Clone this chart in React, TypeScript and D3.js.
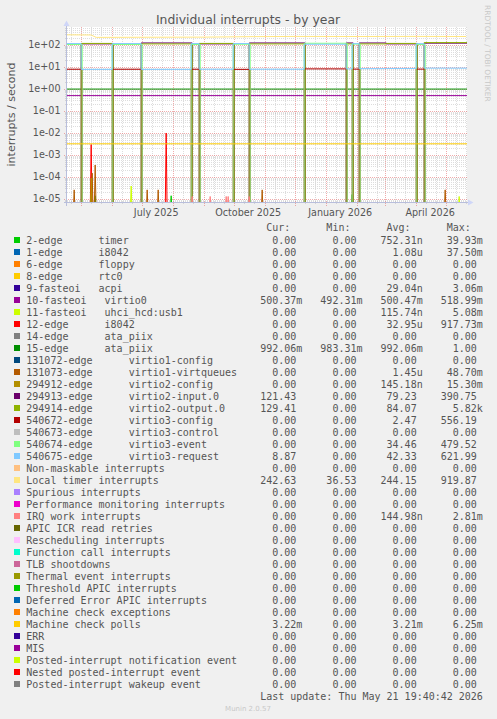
import React from 'react';
import * as d3 from 'd3';

const W = 497;
const H = 719;

// ---------- time frame ----------
const endDate = new Date(2026, 4, 21, 19, 40, 42);
const startDate = d3.timeDay.offset(endDate, -400);
const parse = d3.timeParse('%Y-%m-%d');

// ---------- axis labels ----------
const yTickValues = [1e2, 1e1, 1e0, 1e-1, 1e-2, 1e-3, 1e-4, 1e-5];
const yTickLabels = ['1e+02', '1e+01', '1e+00', '1e-01', '1e-02', '1e-03', '1e-04', '1e-05'];
const xTickDates = ['2025-07-15', '2025-10-15', '2026-01-15', '2026-04-15'];
const xTickLabels = ['July 2025', 'October 2025', 'January 2026', 'April 2026'];

// ---------- periods (virtio2 / virtio3 device usage) ----------
const periodStarts = [
  '2025-04-16', '2025-05-01', '2025-06-01', '2025-06-30', '2025-08-19', '2025-08-27',
  '2025-09-30', '2025-10-16', '2025-12-10', '2026-01-21', '2026-01-27', '2026-02-03',
  '2026-03-02', '2026-04-01', '2026-04-09',
];
const virtio2Input = [0, 112, 0, 124, 0, 112, 0, 124, 0, 124, 0, 124, 112, 0, 121];
const virtio2Output = [0, 118, 0, 112, 0, 118, 0, 112, 0, 112, 0, 112, 118, 0, 129];
const virtio3Config = [7.9, 0, 7.9, 0, 7.9, 0, 7.8, 0, 8.2, 0, 8, 0, 0, 8, 0];
const virtio3Event = [105, 0, 105, 0, 105, 0, 108, 0, 120, 0, 110, 0, 0, 105, 0];
const virtio3Request = [116, 7.8, 116, 7.8, 116, 7.9, 116, 7.9, 108, 8.2, 115, 8.4, 8.6, 115, 8.9];

// ---------- local timer ----------
const localTimerDates = [
  '2025-04-16', '2025-05-11', '2025-05-16', '2025-07-01', '2025-09-01', '2025-10-20',
  '2025-12-01', '2026-02-01', '2026-04-01', '2026-05-21',
];
const localTimerValues = [290, 285, 222, 225, 228, 240, 245, 243, 246, 243];

// ---------- flat series ----------
const virtio0Level = 0.5;
const ataPiix15Level = 0.992;
const machineCheckPollsLevel = 0.00322;

// ---------- spikes ----------
const timerSpikeDates = ['2025-05-15', '2025-07-30', '2026-01-27'];
const timerSpikeValues = [1.4e-5, 1.4e-5, 1.6e-5];
const uhciSpikeDates = ['2025-06-20', '2026-05-14'];
const uhciSpikeValues = [3.9e-5, 1.3e-5];
const i8042SpikeDates = ['2025-05-11', '2025-07-25'];
const i8042SpikeValues = [3e-3, 1e-2];
const virtqueueSpikeDates = ['2025-04-24', '2025-05-12', '2025-05-15', '2025-07-06', '2025-07-17', '2025-10-29', '2026-04-30'];
const virtqueueSpikeValues = [2.6e-5, 1.5e-4, 3.5e-4, 2.6e-5, 2.6e-5, 2.6e-5, 2.6e-5];
const virtio2ConfigSpikeDates = ['2025-05-11'];
const virtio2ConfigSpikeValues = [9e-5];
const irqWorkSpikeDates = ['2025-08-20', '2025-09-07', '2025-09-23', '2025-09-25', '2025-10-16'];
const irqWorkSpikeValues = [1.3e-5, 1.3e-5, 1.3e-5, 1.3e-5, 1.3e-5];

// ---------- legend ----------
const legendLabels = [
  '2-edge      timer', '1-edge      i8042', '6-edge      floppy', '8-edge      rtc0',
  '9-fasteoi   acpi', '10-fasteoi   virtio0', '11-fasteoi   uhci_hcd:usb1', '12-edge      i8042',
  '14-edge      ata_piix', '15-edge      ata_piix', '131072-edge      virtio1-config',
  '131073-edge      virtio1-virtqueues', '294912-edge      virtio2-config',
  '294913-edge      virtio2-input.0', '294914-edge      virtio2-output.0',
  '540672-edge      virtio3-config', '540673-edge      virtio3-control',
  '540674-edge      virtio3-event', '540675-edge      virtio3-request',
  'Non-maskable interrupts', 'Local timer interrupts', 'Spurious interrupts',
  'Performance monitoring interrupts', 'IRQ work interrupts', 'APIC ICR read retries',
  'Rescheduling interrupts', 'Function call interrupts', 'TLB shootdowns',
  'Thermal event interrupts', 'Threshold APIC interrupts', 'Deferred Error APIC interrupts',
  'Machine check exceptions', 'Machine check polls', 'ERR', 'MIS',
  'Posted-interrupt notification event', 'Nested posted-interrupt event',
  'Posted-interrupt wakeup event',
];
const legendColors = [
  '#00CC00', '#0066B3', '#FF8000', '#FFCC00', '#330099', '#990099', '#CCFF00', '#FF0000',
  '#808080', '#008F00', '#00487D', '#B35A00', '#B38F00', '#6B006B', '#8FB300', '#B30000',
  '#BEBEBE', '#80FF80', '#80C9FF', '#FFC080', '#FFE680', '#AA80FF', '#EE00CC', '#FF8080',
  '#666600', '#FFBFFF', '#00FFCC', '#CC6699', '#999900', '#00CC00', '#0066B3', '#FF8000',
  '#FFCC00', '#330099', '#990099', '#CCFF00', '#FF0000', '#808080',
];
const curValues = [
  '0.00', '0.00', '0.00', '0.00', '0.00', '500.37m', '0.00', '0.00', '0.00', '992.06m',
  '0.00', '0.00', '0.00', '121.43', '129.41', '0.00', '0.00', '0.00', '8.87', '0.00',
  '242.63', '0.00', '0.00', '0.00', '0.00', '0.00', '0.00', '0.00', '0.00', '0.00',
  '0.00', '0.00', '3.22m', '0.00', '0.00', '0.00', '0.00', '0.00',
];
const minValues = [
  '0.00', '0.00', '0.00', '0.00', '0.00', '492.31m', '0.00', '0.00', '0.00', '983.31m',
  '0.00', '0.00', '0.00', '0.00', '0.00', '0.00', '0.00', '0.00', '0.00', '0.00',
  '36.53', '0.00', '0.00', '0.00', '0.00', '0.00', '0.00', '0.00', '0.00', '0.00',
  '0.00', '0.00', '0.00', '0.00', '0.00', '0.00', '0.00', '0.00',
];
const avgValues = [
  '752.31n', '1.08u', '0.00', '0.00', '29.04n', '500.47m', '115.74n', '32.95u', '0.00', '992.06m',
  '0.00', '1.45u', '145.18n', '79.23', '84.07', '2.47', '0.00', '34.46', '42.33', '0.00',
  '244.15', '0.00', '0.00', '144.98n', '0.00', '0.00', '0.00', '0.00', '0.00', '0.00',
  '0.00', '0.00', '3.21m', '0.00', '0.00', '0.00', '0.00', '0.00',
];
const maxValues = [
  '39.93m', '37.50m', '0.00', '0.00', '3.06m', '518.99m', '5.08m', '917.73m', '0.00', '1.00',
  '0.00', '48.70m', '15.30m', '390.75', '5.82k', '556.19', '0.00', '479.52', '621.99', '0.00',
  '919.87', '0.00', '0.00', '2.81m', '0.00', '0.00', '0.00', '0.00', '0.00', '0.00',
  '0.00', '0.00', '6.25m', '0.00', '0.00', '0.00', '0.00', '0.00',
];
const columnHeaders = ['Cur:', 'Min:', 'Avg:', 'Max:'];
const lastUpdate = 'Last update: Thu May 21 19:40:42 2026';

// ---------- layout ----------
const plot = { left: 67, right: 467, top: 27, bottom: 203 };
const sans = 'DejaVu Sans, sans-serif';
const mono = 'DejaVu Sans Mono, monospace';
const textColor = '#555555';

const x = d3.scaleTime().domain([startDate, endDate]).range([plot.left, plot.right]);
const y = d3
  .scaleLog()
  .domain([Math.pow(10, -5.182), Math.pow(10, 2.818)])
  .range([plot.bottom, plot.top]);

type Pt = [Date, number];
const yOf = (v: number) => (v > 0 ? y(v) : plot.bottom + 12);

const stepLine = d3.line<Pt>().x((d) => x(d[0])).y((d) => yOf(d[1])).curve(d3.curveStepAfter);
const linLine = d3.line<Pt>().x((d) => x(d[0])).y((d) => yOf(d[1]));

function periodPoints(values: number[]): Pt[] {
  const pts: Pt[] = [];
  values.forEach((v, i) => {
    let d = parse(periodStarts[i]) as Date;
    // on the change-over day both devices are partly active
    if (v === 0 && i > 0 && values[i - 1] > 0) d = d3.timeDay.offset(d, 1);
    pts.push([d, v]);
  });
  pts.push([endDate, values[values.length - 1]]);
  return pts;
}
function spikePoints(dates: string[], vals: number[]): Pt[] {
  const pts: Pt[] = [[startDate, 0]];
  dates.forEach((ds, i) => {
    const d = parse(ds) as Date;
    pts.push([d3.timeDay.offset(d, -1), 0], [d, vals[i]], [d3.timeDay.offset(d, 1), 0]);
  });
  pts.push([endDate, 0]);
  return pts;
}
const flat = (v: number): Pt[] => [[startDate, v], [endDate, v]];

// drawn in legend order
const seriesPaths: { color: string; d: string }[] = [
  { color: legendColors[0], d: linLine(spikePoints(timerSpikeDates, timerSpikeValues)) || '' },
  { color: legendColors[5], d: linLine(flat(virtio0Level)) || '' },
  { color: legendColors[6], d: linLine(spikePoints(uhciSpikeDates, uhciSpikeValues)) || '' },
  { color: legendColors[7], d: linLine(spikePoints(i8042SpikeDates, i8042SpikeValues)) || '' },
  { color: legendColors[9], d: linLine(flat(ataPiix15Level)) || '' },
  { color: legendColors[11], d: linLine(spikePoints(virtqueueSpikeDates, virtqueueSpikeValues)) || '' },
  { color: legendColors[12], d: linLine(spikePoints(virtio2ConfigSpikeDates, virtio2ConfigSpikeValues)) || '' },
  { color: legendColors[13], d: stepLine(periodPoints(virtio2Input)) || '' },
  { color: legendColors[14], d: stepLine(periodPoints(virtio2Output)) || '' },
  { color: legendColors[15], d: stepLine(periodPoints(virtio3Config)) || '' },
  { color: legendColors[17], d: stepLine(periodPoints(virtio3Event)) || '' },
  { color: legendColors[18], d: stepLine(periodPoints(virtio3Request)) || '' },
  {
    color: legendColors[20],
    d: linLine(localTimerDates.map((s, i) => [parse(s) as Date, localTimerValues[i]] as Pt)) || '',
  },
  { color: legendColors[23], d: linLine(spikePoints(irqWorkSpikeDates, irqWorkSpikeValues)) || '' },
  { color: legendColors[32], d: linLine(flat(machineCheckPollsLevel)) || '' },
];

// grids
const monthStarts = d3.timeMonth.range(d3.timeMonth.ceil(startDate), endDate);
const minorDays = d3
  .timeDay.range(startDate, endDate)
  .filter((d) => d.getDate() === 11 || d.getDate() === 21);
const hMinor: number[] = [];
const hMajor: number[] = [];
for (let e = -6; e <= 3; e++) {
  for (let m = 1; m <= 9; m++) {
    const v = m * Math.pow(10, e);
    const py = y(v);
    if (py < plot.top || py > plot.bottom) continue;
    if (m === 1) hMajor.push(py);
    else hMinor.push(py);
  }
}

const minorGrid = 'rgba(150,150,150,0.32)';
const majorGrid = 'rgba(225,90,90,0.5)';

const rowY0 = 240;
const rowStep = 12;
const colRight = [302.3, 362.5, 422.7, 482.9];
const charW = 6.02;
const valX = (col: number, s: string) => colRight[col] - (/[a-zA-Z]$/.test(s) ? 0 : charW);

export default function App() {
  return (
    <svg
      width={W}
      height={H}
      style={{ position: 'absolute', left: 0, top: 0, display: 'block' }}
      xmlns="http://www.w3.org/2000/svg"
    >
      <rect x={0} y={0} width={W} height={H} fill="#F0F0F0" />
      <defs>
        <clipPath id="plotClip">
          <rect x={plot.left} y={plot.top} width={plot.right - plot.left} height={plot.bottom - plot.top} />
        </clipPath>
      </defs>

      {/* title */}
      <text x={248} y={24} textAnchor="middle" fontFamily={sans} fontSize={12.4} fill={textColor}>
        Individual interrupts - by year
      </text>

      {/* vertical watermark */}
      <text
        transform="translate(485,5) rotate(90)"
        fontFamily={sans}
        fontSize={7.5}
        fill="#C8C8C8"
      >
        RRDTOOL / TOBI OETIKER
      </text>

      {/* y axis title */}
      <text
        transform={`translate(14.5,114.5) rotate(-90)`}
        textAnchor="middle"
        fontFamily={sans}
        fontSize={11}
        fill={textColor}
      >
        interrupts / second
      </text>

      {/* canvas */}
      <rect
        x={plot.left}
        y={plot.top}
        width={plot.right - plot.left}
        height={plot.bottom - plot.top}
        fill="#FFFFFF"
      />

      {/* minor grid */}
      <g stroke={minorGrid} strokeWidth={1} strokeDasharray="1 1" fill="none">
        {hMinor.map((py, i) => (
          <line key={'hm' + i} x1={plot.left - 2} x2={plot.right} y1={Math.round(py) + 0.5} y2={Math.round(py) + 0.5} />
        ))}
        {minorDays.map((d, i) => {
          const px = Math.round(x(d)) + 0.5;
          return <line key={'vm' + i} x1={px} x2={px} y1={plot.top} y2={plot.bottom + 2} />;
        })}
      </g>
      {/* major grid */}
      <g stroke={majorGrid} strokeWidth={1} strokeDasharray="1 1" fill="none">
        {hMajor.map((py, i) => (
          <line key={'hM' + i} x1={plot.left - 3} x2={plot.right} y1={Math.round(py) + 0.5} y2={Math.round(py) + 0.5} />
        ))}
        {monthStarts.map((d, i) => {
          const px = Math.round(x(d)) + 0.5;
          return <line key={'vM' + i} x1={px} x2={px} y1={plot.top} y2={plot.bottom + 3} />;
        })}
      </g>

      {/* series */}
      <g clipPath="url(#plotClip)" fill="none" strokeWidth={1}>
        {seriesPaths.map((s, i) => (
          <path key={i} d={s.d} stroke={s.color} />
        ))}
      </g>

      {/* axes */}
      <line x1={plot.left - 0.5} x2={plot.left - 0.5} y1={plot.bottom + 3} y2={24} stroke="#B8BEDC" />
      <line x1={plot.left - 3} x2={470} y1={plot.bottom - 0.5} y2={plot.bottom - 0.5} stroke="#B8BEDC" />
      <polygon points={`${plot.left - 3.5},26 ${plot.left + 2.5},26 ${plot.left - 0.5},20.5`} fill="#CFD6F8" />
      <polygon points={`468,${plot.bottom - 3.5} 468,${plot.bottom + 2.5} 473.5,${plot.bottom - 0.5}`} fill="#CFD6F8" />

      {/* y tick labels */}
      {yTickValues.map((v, i) => (
        <text
          key={'yl' + i}
          x={60.5}
          y={y(v) + 3.5}
          textAnchor="end"
          fontFamily={sans}
          fontSize={9.6}
          fill={textColor}
        >
          {yTickLabels[i]}
        </text>
      ))}

      {/* x tick labels */}
      {xTickDates.map((ds, i) => (
        <text
          key={'xl' + i}
          x={x(parse(ds) as Date)}
          y={216}
          textAnchor="middle"
          fontFamily={sans}
          fontSize={9.6}
          fill={textColor}
        >
          {xTickLabels[i]}
        </text>
      ))}

      {/* legend header */}
      {columnHeaders.map((h, i) => (
        <text
          key={'hdr' + i}
          x={colRight[i] - 2 * charW}
          y={231}
          textAnchor="end"
          fontFamily={mono}
          fontSize={10}
          fill={textColor}
        >
          {h}
        </text>
      ))}

      {/* legend rows */}
      {legendLabels.map((lab, i) => {
        const cy = rowY0 + i * rowStep;
        const cols = [curValues[i], minValues[i], avgValues[i], maxValues[i]];
        return (
          <g key={'lg' + i}>
            <rect x={14} y={cy - 3} width={6} height={6} fill={legendColors[i]} />
            <text
              x={26.3}
              y={cy + 3.5}
              fontFamily={mono}
              fontSize={10}
              fill={textColor}
              xmlSpace="preserve"
              style={{ whiteSpace: 'pre' }}
            >
              {lab}
            </text>
            {cols.map((s, c) => (
              <text
                key={c}
                x={valX(c, s)}
                y={cy + 3.5}
                textAnchor="end"
                fontFamily={mono}
                fontSize={10}
                fill={textColor}
              >
                {s}
              </text>
            ))}
          </g>
        );
      })}

      {/* last update */}
      <text x={482.9} y={699.5} textAnchor="end" fontFamily={mono} fontSize={10} fill={textColor} xmlSpace="preserve" style={{ whiteSpace: 'pre' }}>
        {lastUpdate}
      </text>

      {/* munin version */}
      <text x={248} y={711} textAnchor="middle" fontFamily={sans} fontSize={7} fill="#C8C8C8">
        Munin 2.0.57
      </text>
    </svg>
  );
}
